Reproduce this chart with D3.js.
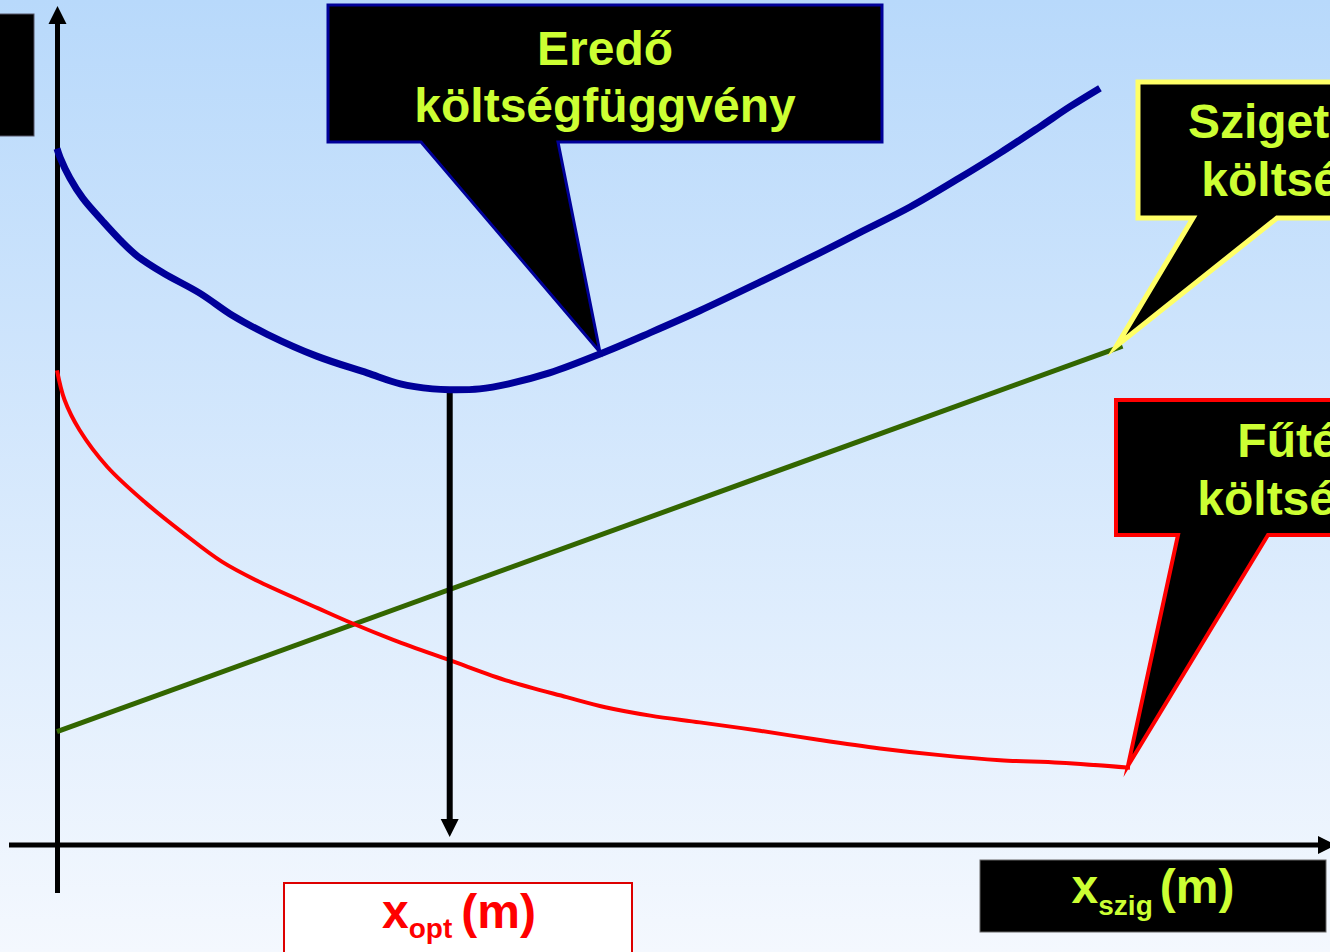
<!DOCTYPE html>
<html>
<head>
<meta charset="utf-8">
<script src="https://cdn.jsdelivr.net/npm/d3@7"></script>
<style>
  html, body { margin: 0; padding: 0; overflow: hidden; }
  svg { display: block; }
  text { font-family: "Liberation Sans", Arial, sans-serif; font-weight: bold; }
</style>
</head>
<body>
<script>
// Insulation thickness (m) sampled along each cost curve
const xEredo = [0, 0.03, 0.12, 0.24, 0.43, 0.59, 0.75, 0.99, 1.33, 1.64, 1.96, 2.42, 2.89, 3.20, 3.50, 3.66, 3.94, 4.21, 4.59, 5.06, 5.53, 5.99, 6.55, 7.11, 7.48, 7.95, 8.41, 8.79, 9.16, 9.44, 9.72];
// Total cost
const yEredo = [82.9, 81.8, 79.4, 77.0, 74.2, 72.0, 70.1, 68.1, 65.7, 63.0, 60.8, 58.2, 56.2, 54.9, 54.3, 54.2, 54.3, 54.9, 56.2, 58.45, 61.0, 63.6, 67.0, 70.5, 72.9, 75.95, 79.4, 82.4, 85.5, 87.9, 90.1];

const xFutes = [0, 0.07, 0.21, 0.47, 0.83, 1.18, 1.54, 1.89, 2.43, 2.75, 3.14, 3.66, 4.21, 4.75, 5.11, 5.53, 5.99, 6.55, 7.11, 7.67, 8.23, 8.79, 9.35, 10.0];
// Heating cost
const yFutes = [56.5, 53.0, 49.4, 45.0, 40.7, 37.1, 33.7, 31.3, 28.2, 26.4, 24.4, 22.0, 19.5, 17.6, 16.4, 15.4, 14.6, 13.6, 12.5, 11.5, 10.7, 10.1, 9.8, 9.2];

const xSzig = [0, 9.93];
// Insulation cost (linear)
const ySzig = [13.5, 59.4];

// Optimum thickness and the callout anchor on the total-cost curve
const xOpt = 3.66;
const yOpt = 54.2;
const eredoAnchor = 19; // index into the total-cost arrays

const eredoLabel = ["Eredő", "költségfüggvény"];
const szigLabel = ["Szigetelési", "költségek"];
const futesLabel = ["Fűtési", "költségek"];

const W = 1330, H = 952;
const LIME = "#ccff33";

const svg = d3.select("body").append("svg").attr("width", W).attr("height", H);

const defs = svg.append("defs");
const grad = defs.append("linearGradient").attr("id", "bg").attr("x1", 0).attr("y1", 0).attr("x2", 0).attr("y2", 1);
grad.append("stop").attr("offset", "0%").attr("stop-color", "#b8d9fb");
grad.append("stop").attr("offset", "100%").attr("stop-color", "#f4f8fe");
svg.append("rect").attr("width", W).attr("height", H).attr("fill", "url(#bg)");

const x = d3.scaleLinear().domain([0, 10]).range([57, 1130]);
const y = d3.scaleLinear().domain([0, 100]).range([845, 5]);

// Axes with arrowheads
const axes = svg.append("g");
axes.append("line").attr("x1", 57.5).attr("x2", 57.5).attr("y1", 893).attr("y2", 20)
  .attr("stroke", "#000").attr("stroke-width", 5);
axes.append("path").attr("d", "M57.5,6 L66.5,24 L48.5,24 Z").attr("fill", "#000");
axes.append("line").attr("x1", 9).attr("x2", 1320).attr("y1", 845).attr("y2", 845)
  .attr("stroke", "#000").attr("stroke-width", 5);
axes.append("path").attr("d", "M1336,845 L1318,836 L1318,854 Z").attr("fill", "#000");

// Top-left label box (clipped at the edge)
svg.append("rect").attr("x", -300).attr("y", 14).attr("width", 334).attr("height", 122)
  .attr("fill", "#000").attr("stroke", "#556").attr("stroke-width", 1);

const line = d3.line().curve(d3.curveCatmullRom.alpha(0.5));

// Insulation cost
svg.append("path")
  .attr("d", line(xSzig.map((v, i) => [x(v), y(ySzig[i])])))
  .attr("fill", "none").attr("stroke", "#336600").attr("stroke-width", 5);

// Heating cost
svg.append("path")
  .attr("d", line(xFutes.map((v, i) => [x(v), y(yFutes[i])])))
  .attr("fill", "none").attr("stroke", "#ff0000").attr("stroke-width", 4);

// Optimum drop line
svg.append("line")
  .attr("x1", x(xOpt)).attr("x2", x(xOpt))
  .attr("y1", y(yOpt)).attr("y2", 822)
  .attr("stroke", "#000").attr("stroke-width", 6);
svg.append("path")
  .attr("d", `M${x(xOpt)},837 L${x(xOpt) - 9},819 L${x(xOpt) + 9},819 Z`)
  .attr("fill", "#000");

// Total cost
svg.append("path")
  .attr("d", line(xEredo.map((v, i) => [x(v), y(yEredo[i])])))
  .attr("fill", "none").attr("stroke", "#000099").attr("stroke-width", 7)
  .attr("stroke-linecap", "butt");

// Callout boxes with pointers
function callout(left, top, right, bottom, baseL, baseR, tip, stroke, sw) {
  const pts = [[left, top], [right, top], [right, bottom], [baseR, bottom], tip, [baseL, bottom], [left, bottom]];
  svg.append("path")
    .attr("d", "M" + pts.map(p => p.join(",")).join("L") + "Z")
    .attr("fill", "#000").attr("stroke", stroke).attr("stroke-width", sw)
    .attr("stroke-linejoin", "miter").attr("stroke-miterlimit", 20);
}
function boxText(cx, baselines, lines) {
  const t = svg.append("g");
  lines.forEach((s, i) => {
    t.append("text").attr("x", cx).attr("y", baselines[i])
      .attr("text-anchor", "middle").attr("font-size", 48).attr("fill", LIME).text(s);
  });
}

callout(328, 5, 882, 142, 421, 558, [x(xEredo[eredoAnchor]), y(yEredo[eredoAnchor]) - 2], "#000099", 3);
boxText(605, [65, 122], eredoLabel);

callout(1138, 82, 1700, 218, 1193, 1277, [x(xSzig[1]) - 6, y(ySzig[1])], "#ffff66", 5);
boxText(1312, [138, 196], szigLabel);

const lastF = xFutes.length - 1;
callout(1116, 400, 1700, 535, 1178, 1268, [x(xFutes[lastF]) - 2, y(yFutes[lastF]) - 2], "#ff0000", 4);
boxText(1308, [457, 515], futesLabel);

// Axis caption boxes
svg.append("rect").attr("x", 980).attr("y", 860).attr("width", 346).attr("height", 72)
  .attr("fill", "#000").attr("stroke", "#666").attr("stroke-width", 1);
const tSzig = svg.append("text").attr("x", 1153).attr("y", 903)
  .attr("text-anchor", "middle").attr("fill", LIME).attr("font-size", 48);
tSzig.append("tspan").text("x");
tSzig.append("tspan").attr("font-size", 28).attr("dy", 12).text("szig");
tSzig.append("tspan").attr("dy", -12).attr("dx", 7).text("(m)");

svg.append("rect").attr("x", 284).attr("y", 883).attr("width", 348).attr("height", 80)
  .attr("fill", "#fff").attr("stroke", "#dd0000").attr("stroke-width", 2);
const tOpt = svg.append("text").attr("x", 459).attr("y", 928)
  .attr("text-anchor", "middle").attr("fill", "#ff0000").attr("font-size", 48);
tOpt.append("tspan").text("x");
tOpt.append("tspan").attr("font-size", 28).attr("dy", 10).text("opt");
tOpt.append("tspan").attr("dy", -10).attr("dx", 9).text("(m)");
</script>
</body>
</html>
